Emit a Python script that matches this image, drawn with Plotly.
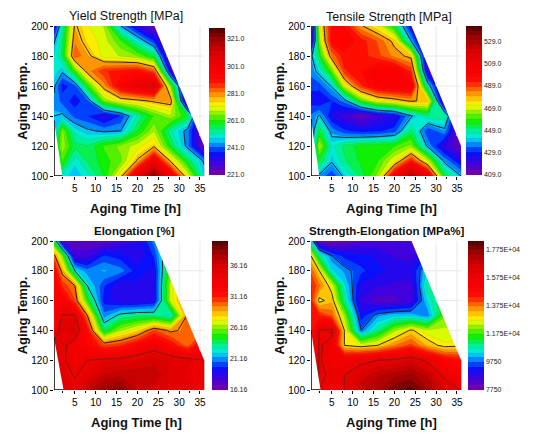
import plotly.graph_objects as go

W, H = 538, 437

aging_time = [0, 2, 5, 8, 12, 16, 20, 24, 28, 32, 36]
aging_temp = [100, 110, 120, 130, 140, 150, 160, 170, 180, 190, 200]

yield_strength = [
    [252, 250, 246, 250, 258, 275, 305, 325, 300, 272, 248],
    [252, 262, 249, 255, 260, 264, 278, 300, 276, 258, 244],
    [250, 268, 256, 255, 262, 266, 270, 276, 258, 243, 222],
    [246, 266, 250, 246, 244, 245, 258, 268, 252, 243, 222],
    [245, 246, 240, 238, 232, 238, 252, 262, 268, 258, 222],
    [244, 240, 236, 240, 265, 273, 275, 278, 280, 222, 222],
    [246, 236, 240, 260, 280, 296, 303, 308, 265, 222, 222],
    [250, 246, 262, 280, 288, 290, 292, 285, 232, 222, 222],
    [248, 256, 285, 279, 270, 268, 265, 257, 222, 222, 222],
    [244, 255, 281, 274, 270, 262, 250, 238, 222, 222, 222],
    [232, 252, 278, 272, 268, 245, 232, 224, 222, 222, 222],
]
tensile_strength = [
    [440, 438, 430, 442, 452, 465, 505, 530, 510, 455, 440],
    [440, 455, 441, 450, 456, 459, 472, 495, 470, 438, 425],
    [432, 468, 445, 452, 457, 458, 459, 465, 438, 422, 412],
    [432, 455, 437, 431, 428, 429, 432, 452, 430, 438, 410],
    [435, 441, 425, 420, 412, 420, 424, 439, 450, 450, 409],
    [428, 425, 430, 436, 460, 472, 476, 481, 478, 412, 409],
    [431, 432, 441, 470, 492, 503, 505, 505, 445, 410, 409],
    [436, 443, 462, 492, 497, 505, 505, 492, 420, 409, 409],
    [438, 455, 485, 496, 495, 490, 483, 478, 412, 409, 409],
    [415, 465, 498, 500, 495, 488, 478, 440, 409, 409, 409],
    [412, 470, 497, 497, 481, 472, 455, 425, 409, 409, 409],
]
elongation = [
    [35.0, 35.0, 35.0, 37.0, 38.5, 39.0, 37.0, 36.0, 35.5, 35.0, 34.6],
    [35.0, 35.0, 34.4, 35.0, 36.5, 37.0, 37.0, 37.0, 35.5, 34.8, 34.6],
    [35.0, 35.0, 33.0, 34.5, 34.8, 35.0, 35.5, 36.0, 35.5, 35.0, 34.5],
    [35.0, 35.0, 33.5, 32.5, 30.5, 31.0, 32.5, 33.6, 32.0, 30.0, 33.0],
    [33.0, 35.5, 36.0, 32.0, 24.0, 26.5, 28.0, 30.5, 29.2, 29.9, 30.0],
    [33.0, 34.6, 34.6, 29.5, 21.0, 23.0, 23.5, 23.5, 22.5, 29.8, 30.0],
    [33.0, 33.0, 30.5, 25.0, 19.5, 18.5, 18.5, 19.0, 27.0, 30.0, 30.0],
    [33.0, 31.0, 29.5, 22.5, 20.0, 18.5, 19.0, 19.0, 27.0, 30.0, 30.0],
    [32.5, 29.0, 22.5, 21.0, 21.5, 21.0, 19.5, 19.0, 26.0, 30.0, 30.0],
    [30.0, 26.0, 18.0, 18.0, 20.0, 19.5, 18.5, 20.0, 25.0, 30.0, 30.0],
    [24.0, 18.0, 17.0, 17.0, 17.0, 18.0, 18.5, 21.0, 25.0, 30.0, 30.0],
]
strength_elongation = [
    [15500, 16000, 15500, 16000, 17000, 17400, 18000, 18300, 17500, 16500, 16000],
    [15000, 16100, 15900, 16000, 16500, 17000, 17300, 17500, 17000, 15800, 15300],
    [14800, 16100, 15500, 15500, 15800, 16000, 16100, 16500, 15800, 15000, 14700],
    [14500, 16100, 15700, 13000, 12700, 13000, 13700, 14200, 13300, 12800, 12900],
    [14500, 16000, 16200, 13000, 9800, 11000, 12300, 13100, 12500, 12500, 12500],
    [14500, 14500, 14000, 12300, 9200, 10000, 10300, 10300, 9900, 12000, 12000],
    [14500, 12800, 13300, 11000, 8700, 8300, 8300, 8600, 10500, 11500, 11500],
    [14500, 13800, 12700, 10500, 9000, 8800, 8700, 8600, 11000, 11000, 11000],
    [14000, 13000, 10500, 10000, 9500, 9200, 9000, 9000, 10500, 11000, 11000],
    [13000, 11000, 9800, 9300, 9200, 9000, 8700, 8600, 9500, 10500, 10500],
    [10500, 8000, 7800, 8000, 8400, 8500, 8500, 8400, 8000, 10000, 10000],
]

titles = ["Yield Strength [MPa]", "Tensile Strength [MPa]", "Elongation [%]", "Strength-Elongation [MPa%]"]
bar_ticks = [
    [221, 241, 261, 281, 301, 321],
    [409, 429, 449, 469, 489, 509, 529],
    [16.16, 21.16, 26.16, 31.16, 36.16],
    [7750, 9750, 11750, 13750, 15750, 17750],
]
bar_labels = [
    ["221.0", "241.0", "261.0", "281.0", "301.0", "321.0"],
    ["409.0", "429.0", "449.0", "469.0", "489.0", "509.0", "529.0"],
    ["16.16", "21.16", "26.16", "31.16", "36.16"],
    ["7750", "9750", "1.175E+04", "1.375E+04", "1.575E+04", "1.775E+04"],
]
z_ranges = [(221, 329), (409, 543), (16.16, 40.1), (7750, 18393)]
line_levels = [(245, 277, 32), (440, 480, 40), (22.5, 29.5, 7), (9800, 13000, 3200)]
soft_levels = [None, None, 34.5, 16000]

# boundaries of the measured region
right_edge_time = [24, 36]
right_edge_temp = [200, 120]
left_edge_time = [[2, 0], [2, 0], [2.3, 0], [2.3, 0]]
left_edge_temp = [[100, 137], [100, 138], [100, 135], [100, 140]]

panels = [
    dict(x0=54, x1=205, y0=26, y1=176, bx=209, by=28, bl=147, tx=126, ty=16, bold=False, tsize=12.5, lx=135, ly=208),
    dict(x0=311, x1=462, y0=26, y1=176, bx=466, by=26, bl=149, tx=389, ty=17, bold=False, tsize=12.5, lx=391, ly=208),
    dict(x0=54, x1=205, y0=241, y1=390, bx=212, by=241, bl=149, tx=134, ty=231, bold=True, tsize=11.5, lx=136, ly=422),
    dict(x0=311, x1=462, y0=241, y1=390, bx=468, by=241, bl=149, tx=386, ty=231, bold=True, tsize=11.5, lx=391, ly=422),
]

scale = [
    [0.00, "#7800a0"], [0.08, "#4000e0"], [0.15, "#0010ff"], [0.20, "#0080ff"],
    [0.25, "#00e8f0"], [0.30, "#00f090"], [0.36, "#10f000"], [0.42, "#90f000"],
    [0.47, "#ffff00"], [0.52, "#ffc000"], [0.57, "#ff7000"], [0.63, "#ff1000"],
    [0.68, "#ff0000"], [0.82, "#e00000"], [0.92, "#a00000"], [1.00, "#500000"],
]
FONT = "Liberation Sans"
data_sets = [yield_strength, tensile_strength, elongation, strength_elongation]

fig = go.Figure()
layout = dict(
    width=W, height=H, margin=dict(l=0, r=0, t=0, b=0, autoexpand=False), paper_bgcolor="white",
    plot_bgcolor="white", showlegend=False, autosize=False, annotations=[],
)

for i, (p, z) in enumerate(zip(panels, data_sets)):
    xa, ya = f"x{i + 1}", f"y{i + 1}"
    zmin, zmax = z_ranges[i]
    step = (zmax - zmin) / 32
    fig.add_trace(go.Contour(
        x=aging_time, y=aging_temp, z=z, xaxis=xa, yaxis=ya,
        zmin=zmin, zmax=zmax, zauto=False, colorscale=scale,
        contours=dict(start=zmin, end=zmax, size=step, coloring="fill", showlines=True),
        line=dict(width=0.3, color="rgba(90,90,60,0.35)", smoothing=0),
        hoverinfo="skip",
        colorbar=dict(
            x=p["bx"] / W, xanchor="left", xpad=0, y=1 - p["by"] / H, yanchor="top", ypad=0,
            lenmode="pixels", len=p["bl"], thicknessmode="pixels", thickness=16,
            outlinewidth=0, tickmode="array", tickvals=bar_ticks[i], ticktext=bar_labels[i],
            ticks="", ticklabelposition="outside",
            tickfont=dict(family=FONT, size=7, color="#222222"),
        ),
    ))
    lo, hi, sz = line_levels[i]
    fig.add_trace(go.Contour(
        x=aging_time, y=aging_temp, z=z, xaxis=xa, yaxis=ya, showscale=False, hoverinfo="skip",
        contours=dict(start=lo, end=hi, size=sz, coloring="none"),
        line=dict(width=1, color="rgba(0,0,0,0.85)", smoothing=0),
    ))
    if soft_levels[i] is not None:
        fig.add_trace(go.Contour(
            x=aging_time, y=aging_temp, z=z, xaxis=xa, yaxis=ya, showscale=False, hoverinfo="skip",
            contours=dict(start=soft_levels[i], end=soft_levels[i], size=1, coloring="none"),
            line=dict(width=1, color="rgba(70,40,30,0.6)", smoothing=0),
        ))
    # white area outside the measured region
    fig.add_trace(go.Scatter(
        x=[right_edge_time[0], 36.6, 36.6, right_edge_time[1]],
        y=[200.6, 200.6, right_edge_temp[1], right_edge_temp[1]],
        xaxis=xa, yaxis=ya, mode="none", fill="toself", fillcolor="white", hoverinfo="skip",
    ))
    fig.add_trace(go.Scatter(
        x=left_edge_time[i] + [left_edge_time[i][1]], y=left_edge_temp[i] + [100],
        xaxis=xa, yaxis=ya, mode="none", fill="toself", fillcolor="white", hoverinfo="skip",
    ))
    # axis edge beside the white wedge
    fig.add_trace(go.Scatter(
        x=[left_edge_time[i][0], 0, 0], y=[100, 100, left_edge_temp[i][1]],
        xaxis=xa, yaxis=ya, mode="lines", line=dict(color="black", width=1.5), hoverinfo="skip",
        cliponaxis=False,
    ))
    # faint grid in the white area
    slope = (right_edge_time[1] - right_edge_time[0]) / (right_edge_temp[1] - right_edge_temp[0])
    for t in (140, 160, 180):
        xs = right_edge_time[0] + (t - 200) * slope
        fig.add_trace(go.Scatter(x=[xs, 36], y=[t, t], xaxis=xa, yaxis=ya, mode="lines",
                                 line=dict(color="#e8e8e8", width=1), hoverinfo="skip"))
    for h in (30, 35):
        ys = 200 + (h - right_edge_time[0]) / slope
        fig.add_trace(go.Scatter(x=[h, h], y=[ys, 200], xaxis=xa, yaxis=ya, mode="lines",
                                 line=dict(color="#e8e8e8", width=1), hoverinfo="skip"))

    suffix = "" if i == 0 else str(i + 1)
    layout["xaxis" + suffix] = dict(
        domain=[p["x0"] / W, p["x1"] / W], range=[0, 36.2], anchor=ya,
        tickmode="array", tickvals=[5, 10, 15, 20, 25, 30, 35], ticks="outside", ticklen=3,
        tickcolor="black", tickwidth=1, showgrid=False, showline=False, zeroline=False,
        minor=dict(tickvals=[2, 7.5, 12.5, 17.5, 22.5, 27.5, 32.5], ticks="outside", ticklen=2, tickcolor="black"),
        tickfont=dict(family=FONT, size=10, color="#000000"),
    )
    layout["yaxis" + suffix] = dict(
        domain=[1 - p["y1"] / H, 1 - p["y0"] / H], range=[100, 200], anchor=xa,
        tickmode="array", tickvals=[100, 120, 140, 160, 180, 200], ticks="outside", ticklen=3,
        tickcolor="black", tickwidth=1, showgrid=False, showline=False, zeroline=False,
        tickfont=dict(family=FONT, size=10, color="#000000"),
        title=dict(text="<b>Aging Temp.</b>", font=dict(family=FONT, size=13, color="#111111"), standoff=0),
    )
    ttext = f"<b>{titles[i]}</b>" if p["bold"] else titles[i]
    layout["annotations"].append(dict(
        x=p["tx"] / W, y=1 - p["ty"] / H, xref="paper", yref="paper", text=ttext, showarrow=False,
        xanchor="center", yanchor="middle", font=dict(family=FONT, size=p["tsize"], color="#111111"),
    ))
    layout["annotations"].append(dict(
        x=p["lx"] / W, y=1 - p["ly"] / H, xref="paper", yref="paper", text="<b>Aging Time [h]</b>",
        showarrow=False, xanchor="center", yanchor="middle",
        font=dict(family=FONT, size=13, color="#111111"),
    ))

fig.update_layout(**layout)
fig.write_html("out.html", config=dict(displayModeBar=False),
               post_script="document.body.style.margin='0';document.body.style.overflow='hidden';")
